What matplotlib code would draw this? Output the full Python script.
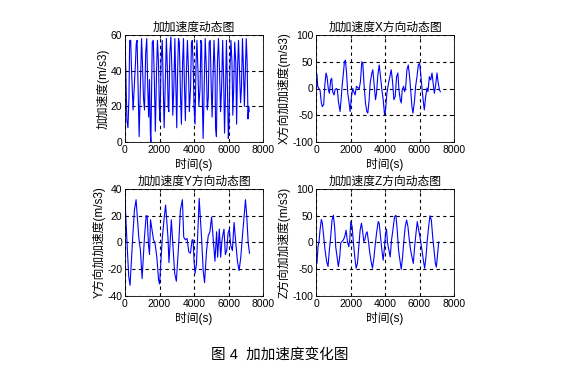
import numpy as np
import matplotlib
matplotlib.use('Agg')
import matplotlib.pyplot as plt

plt.rcParams['font.family'] = ['Liberation Sans', 'Noto Sans CJK SC']
plt.rcParams['axes.unicode_minus'] = False

# magnitude of jerk, vertices (time s, value m/s3)
t_all = [0, 50, 110, 170, 230, 270, 330, 380, 440, 470, 540, 610, 650, 700, 760, 820,
         900, 960, 1010, 1070, 1130, 1200, 1260, 1320, 1370, 1420, 1470, 1500, 1540, 1580,
         1640, 1700, 1760, 1830, 1880, 1940, 1990, 2030, 2090, 2160, 2220, 2270, 2350, 2400,
         2460, 2500, 2540, 2600, 2660, 2720, 2770, 2830, 2890, 2950, 3000, 3050, 3100, 3150,
         3220, 3270, 3340, 3390, 3450, 3500, 3560, 3620, 3680, 3730, 3800, 3850, 3900, 3960,
         4000, 4060, 4120, 4170, 4230, 4280, 4350, 4400, 4440, 4490, 4530, 4600, 4650, 4720,
         4770, 4830, 4880, 4940, 5000, 5050, 5100, 5160, 5220, 5250, 5300, 5360, 5420, 5480,
         5540, 5600, 5660, 5720, 5770, 5820, 5880, 5940, 5990, 6030, 6080, 6140, 6200, 6250,
         6300, 6360, 6420, 6470, 6520, 6580, 6640, 6700, 6750, 6810, 6870, 6920, 6980, 7030,
         7080, 7130, 7170, 7200]
j_all = [57, 38, 12, 8, 25, 57, 57, 40, 25, 18, 31, 45, 55, 57, 30, 3,
         35, 58, 45, 25, 18, 50, 58, 30, 14, 35, 5, 0, 30, 56,
         57, 35, 6, 40, 57, 45, 20, 12, 45, 57, 30, 8, 40, 58,
         40, 20, 17, 50, 59, 40, 15, 30, 58, 30, 8, 40, 58, 56,
         25, 10, 45, 58, 30, 12, 40, 57, 40, 17, 30, 55, 57, 40,
         20, 10, 45, 57, 40, 20, 30, 57, 55, 20, 2, 35, 58, 40,
         18, 25, 56, 57, 30, 14, 35, 57, 40, 8, 3, 45, 58, 40,
         17, 30, 57, 35, 5, 25, 57, 30, 2, 10, 40, 57, 45, 15,
         30, 56, 45, 10, 40, 57, 40, 22, 30, 58, 40, 20, 40, 58,
         45, 13, 20, 17]

# X direction
x_px = [108, 111, 113, 117, 120, 124, 127, 131, 134, 138, 141, 145, 148, 152, 155, 158,
        162, 165, 169, 172, 175, 180, 183, 186, 190, 193, 196, 199, 203, 207, 210, 214,
        218, 221, 225, 229, 233, 237, 241, 245, 248, 252, 256, 260, 263, 267, 270, 275,
        278, 282, 286, 289, 293, 297, 301, 305, 309, 313, 316, 320, 325, 329, 333, 337,
        341, 345, 349, 353, 356, 360, 363, 366, 370, 373, 376, 380, 384, 388, 392, 395,
        398, 402, 406, 410, 414, 418, 422, 426, 430, 432, 436, 440, 443, 447, 451, 455,
        459, 462, 466, 470, 473, 477, 480]
t_x = [round((p - 108) / 51.6 * 1000) for p in x_px]
j_x = [32, 25, 4, 0, -3, -27, -34, -30, 4, 29, 22, -2, -9, 16, 19, -6,
       -12, -2, 0, -2, -24, -43, -21, 4, 29, 50, 53, 32, -9, -27, -43, -15,
       0, -6, -12, 4, 2, -1, 13, 50, 47, 4, -27, -43, -46, -21, 10, 29,
       35, 7, -21, -9, 25, 44, 22, -2, -21, -49, -40, -9, 10, 22, 35, 13,
       -21, -15, 22, 29, -2, -21, -27, -2, 4, -6, 1, 35, 44, 22, -9, -34,
       -46, -27, 4, 22, 44, 47, 22, -6, -30, -40, -15, 1, -6, 22, 16, 29,
       7, -9, 7, 29, 13, -2, -6]

# Y direction
y_px = [137, 143, 148, 152, 160, 165, 170, 178, 183, 188, 195, 200, 203, 207, 210, 213,
        222, 226, 232, 237, 240, 248, 254, 258, 265, 268, 272, 275, 280, 285, 290, 297,
        302, 308, 312, 317, 322, 327, 332, 337, 340, 343, 346, 350, 355, 358, 365, 370,
        374, 380, 385, 390, 395, 400, 405, 410, 413, 418, 422, 426, 432, 436, 440, 444,
        448, 452, 457, 462, 467, 472, 477, 482, 487, 492, 496, 500, 504, 508]
t_y = [round((p - 137) / 51.4 * 1000) for p in y_px]
j_y = [32, 0, -25, -32, 4, 24, 32, 4, -6, -27, 4, 20, 20, -2, -9, 17,
       2, 0, -11, -28, -31, 3, 19, 28, 4, -15, 2, 17, -3, -23, -29, -1,
       24, 32, 4, 2, 3, -7, -8, 2, 2, -15, -23, -16, 14, 33, 4, -21,
       -30, -6, 5, 8, 19, 2, -14, 8, -11, 10, -11, 2, 10, -9, -6, 7,
       10, -2, -6, 15, 0, -14, -21, -11, 5, 20, 32, 19, 0, -8]

# Z direction
z_px = [108, 111, 114, 117, 120, 124, 127, 131, 135, 140, 144, 148, 152, 156, 160, 164,
        167, 171, 175, 179, 182, 186, 190, 194, 198, 202, 206, 209, 212, 216, 220, 224,
        228, 232, 236, 240, 244, 247, 251, 254, 258, 261, 265, 269, 273, 277, 281, 285,
        289, 294, 297, 301, 305, 309, 313, 316, 319, 322, 326, 330, 334, 338, 343, 347,
        351, 355, 359, 363, 367, 371, 375, 379, 383, 387, 391, 395, 399, 403, 407, 411,
        414, 418, 421, 425, 429, 433, 437, 441, 445, 449, 453, 457, 461, 465, 468, 472,
        475]
t_z = [round((p - 108) / 51.6 * 1000) for p in z_px]
j_z = [-33, -39, -8, 2, 23, 43, 36, 11, -14, -36, -45, -14, 11, 42, 51, 27,
       -8, -27, -45, -27, -1, 2, 5, 11, 23, 2, -8, 5, 39, 30, -1, -27,
       -48, -39, -8, 23, 36, 23, 2, 5, 17, 20, 2, -20, -36, -48, -30, -5,
       17, 39, 36, 11, -14, -33, -8, 17, 25, -1, -14, -27, 5, 23, 48, 51,
       23, -14, -33, -50, -27, 5, 30, 42, 30, 5, -14, -27, -39, -8, 17, 39,
       27, 14, 2, -14, -33, -48, -27, 5, 30, 50, 42, 11, -14, -39, -46, -20,
       1]

titles = ['加加速度动态图', '加加速度X方向动态图', '加加速度Y方向动态图', '加加速度Z方向动态图']
ylabels = ['加加速度(m/s3)', 'X方向加加速度(m/s3)', 'Y方向加加速度(m/s3)', 'Z方向加加速度(m/s3)']
ylims = [(0, 60), (-100, 100), (-40, 40), (-100, 100)]
yticks = [[0, 20, 40, 60], [-100, -50, 0, 50, 100], [-40, -20, 0, 20, 40], [-100, -50, 0, 50, 100]]
series = [(t_all, j_all), (t_x, j_x), (t_y, j_y), (t_z, j_z)]

fig = plt.figure(figsize=(5.67, 3.73), dpi=100)
W, H = 567, 373
boxes = [(125, 35), (316, 35), (125, 189), (316, 189)]

for i in range(4):
    l, t = boxes[i]
    ax = fig.add_axes([l / W, 1 - (t + 107) / H, 138 / W, 107 / H])
    tt, vv = series[i]
    ax.plot(tt, vv, color='#0000ff', lw=0.8)
    ax.set_xlim(0, 8000)
    ax.set_ylim(*ylims[i])
    ax.set_xticks([0, 2000, 4000, 6000, 8000])
    ax.set_yticks(yticks[i])
    ax.grid(True, color='black', linestyle=(0, (3, 3)), lw=0.8)
    ax.tick_params(direction='in', length=2.5, width=0.6, labelsize=7.5, pad=2,
                   top=True, right=True)
    for s in ax.spines.values():
        s.set_linewidth(0.6)
    ax.set_title(titles[i], fontsize=8.5, pad=3)
    ax.set_xlabel('时间(s)', fontsize=8.5, labelpad=2)
    ax.set_ylabel(ylabels[i], fontsize=8.5, labelpad=1)

fig.text(280 / W, 1 - 355 / H, '图 4  加加速度变化图', fontsize=10.5,
         ha='center', va='center')

fig.savefig('out.png', dpi=100, facecolor='white')
